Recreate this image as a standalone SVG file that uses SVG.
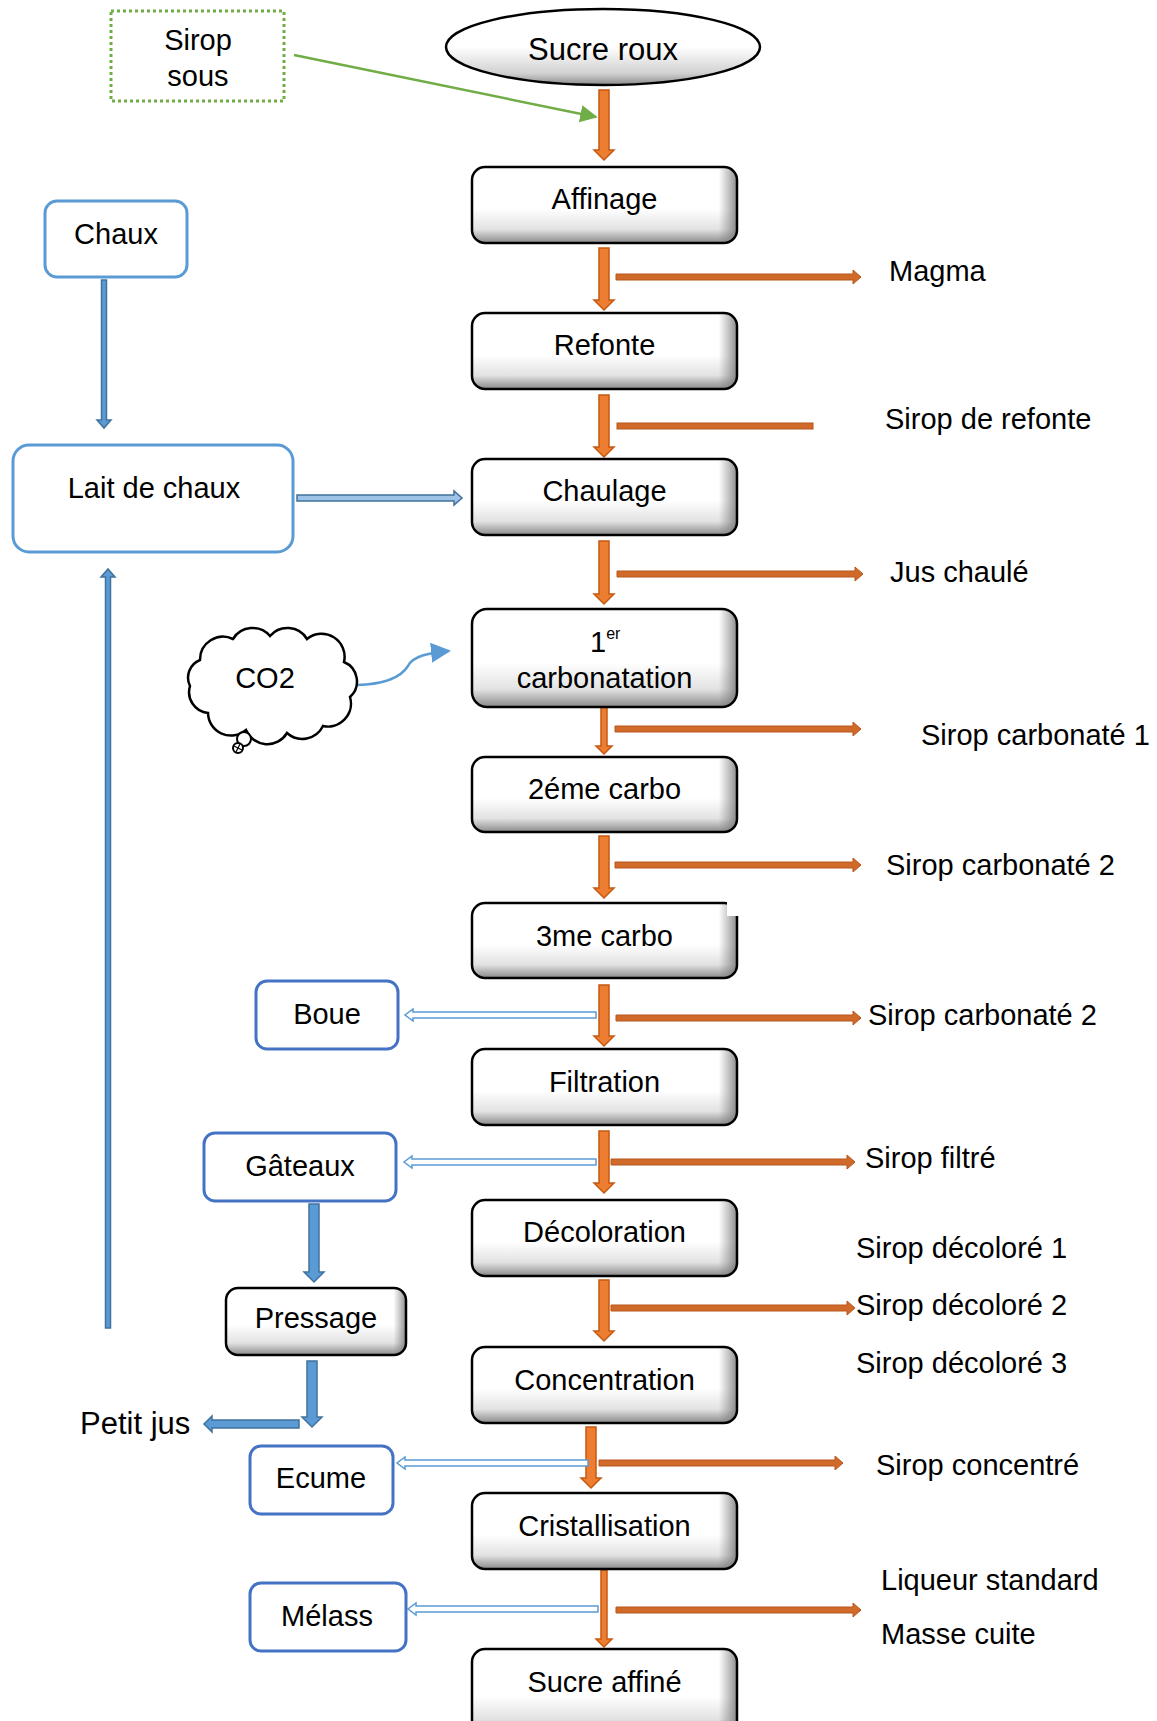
<svg xmlns="http://www.w3.org/2000/svg" width="1157" height="1721" viewBox="0 0 1157 1721">
  <defs>
    <linearGradient id="boxFill" x1="0" y1="0" x2="0" y2="1">
      <stop offset="0" stop-color="#ffffff"/>
      <stop offset="0.55" stop-color="#ffffff"/>
      <stop offset="0.82" stop-color="#e2e2e2"/>
      <stop offset="1" stop-color="#8a8a8a"/>
    </linearGradient>
    <linearGradient id="boxEdge" x1="0" y1="0" x2="1" y2="0">
      <stop offset="0" stop-color="#808080" stop-opacity="0"/>
      <stop offset="0.93" stop-color="#808080" stop-opacity="0"/>
      <stop offset="1" stop-color="#707070" stop-opacity="0.8"/>
    </linearGradient>
    <linearGradient id="ellFill" x1="0" y1="0" x2="0" y2="1">
      <stop offset="0" stop-color="#ffffff"/>
      <stop offset="0.5" stop-color="#ffffff"/>
      <stop offset="0.85" stop-color="#d0d0d0"/>
      <stop offset="1" stop-color="#8a8a8a"/>
    </linearGradient>
    <marker id="greenHead" viewBox="0 0 10 10" refX="9" refY="5" markerWidth="7" markerHeight="7" orient="auto" markerUnits="strokeWidth">
      <path d="M0,0 L10,5 L0,10 Z" fill="#70AD47"/>
    </marker>
    <marker id="blueHead" viewBox="0 0 10 10" refX="9" refY="5" markerWidth="8" markerHeight="8" orient="auto" markerUnits="strokeWidth">
      <path d="M0,0 L10,5 L0,10 Z" fill="#5B9BD5"/>
    </marker>
  </defs>
  <style>
    text { font-family: "Liberation Sans", Arial, sans-serif; font-size: 29px; fill: #000; }
    .c { text-anchor: middle; }
    .step .body { fill: url(#boxFill); stroke: none; }
    .step .edge { fill: url(#boxEdge); stroke: none; }
    .step .frame { fill: none; stroke: #000; stroke-width: 2.5; }
    .side { fill: #fff; stroke-width: 3; }
    .side.light { stroke: #5B9BD5; }
    .side.dark { stroke: #4472C4; }
    .orange { fill: #ED7D31; stroke: #C55A11; stroke-width: 1.5; stroke-linejoin: miter; }
    .orangeThin { fill: #CF6A2A; stroke: #B8561A; stroke-width: 1; }
    .blueSolid { fill: #5B9BD5; stroke: #41719C; stroke-width: 1.5; }
    .blueDouble { fill: #fff; stroke: #5B9BD5; stroke-width: 1.5; }
    .blueOutline { fill: #9DC3E6; stroke: #41719C; stroke-width: 1.5; }
  </style>

  <rect width="1157" height="1721" fill="#ffffff"/>

  <!-- connectors -->
  <g id="connectors">
    <!-- main column, downward -->
    <path class="orange" d="M599,90 H609 V150 H614 L604,160 L594,150 H599 Z"/>
    <path class="orange" d="M599,248 H609 V300 H614 L604,310 L594,300 H599 Z"/>
    <path class="orange" d="M599,395 H609 V447 H614 L604,457 L594,447 H599 Z"/>
    <path class="orange" d="M599,541 H609 V594 H614 L604,604 L594,594 H599 Z"/>
    <path class="orange" d="M601,707 H607 V746 H612 L604,754 L596,746 H601 Z"/>
    <path class="orange" d="M599,836 H609 V888 H614 L604,898 L594,888 H599 Z"/>
    <path class="orange" d="M599,985 H609 V1036 H614 L604,1046 L594,1036 H599 Z"/>
    <path class="orange" d="M599,1131 H609 V1183 H614 L604,1193 L594,1183 H599 Z"/>
    <path class="orange" d="M599,1280 H609 V1331 H614 L604,1341 L594,1331 H599 Z"/>
    <path class="orange" d="M586,1427 H596 V1478 H601 L591,1488 L581,1478 H586 Z"/>
    <path class="orange" d="M601,1570 H607 V1639 H612 L604,1647 L596,1639 H601 Z"/>

    <!-- outputs to the right -->
    <path class="orangeThin" d="M616,274 H853 V270 L861,277 L853,284 V280 H616 Z"/>
    <rect class="orangeThin" x="617" y="423" width="196" height="6"/>
    <path class="orangeThin" d="M617,571 H855 V567 L863,574 L855,581 V577 H617 Z"/>
    <path class="orangeThin" d="M615,726 H853 V722 L861,729 L853,736 V732 H615 Z"/>
    <path class="orangeThin" d="M615,862 H853 V858 L861,865 L853,872 V868 H615 Z"/>
    <path class="orangeThin" d="M616,1015 H853 V1011 L861,1018 L853,1025 V1021 H616 Z"/>
    <path class="orangeThin" d="M611,1159 H847 V1155 L855,1162 L847,1169 V1165 H611 Z"/>
    <path class="orangeThin" d="M611,1305 H847 V1301 L855,1308 L847,1315 V1311 H611 Z"/>
    <path class="orangeThin" d="M599,1460 H835 V1456 L843,1463 L835,1470 V1466 H599 Z"/>
    <path class="orangeThin" d="M616,1607 H853 V1603 L861,1610 L853,1617 V1613 H616 Z"/>

    <!-- by-products to the left -->
    <path class="blueDouble" d="M596,1012 H413 V1009 L405,1015 L413,1021 V1018 H596 Z"/>
    <path class="blueDouble" d="M596,1159 H412 V1156 L404,1162 L412,1168 V1165 H596 Z"/>
    <path class="blueDouble" d="M588,1460 H405 V1457 L397,1463 L405,1469 V1466 H588 Z"/>
    <path class="blueDouble" d="M598,1606 H416 V1603 L408,1609 L416,1615 V1612 H598 Z"/>

    <!-- lime circuit -->
    <path class="blueSolid" d="M101.5,280 H106.5 V420 H111 L104,428 L97,420 H101.5 Z"/>
    <path class="blueOutline" d="M297,495 H454 V491 L462,498 L454,505 V501 H297 Z"/>
    <path class="blueSolid" d="M105.5,1328 H110.5 V577 H115 L108,569 L101,577 H105.5 Z"/>

    <!-- filter cake pressing -->
    <path class="blueSolid" d="M309,1204 H319 V1272 H324 L314,1282 L304,1272 H309 Z"/>
    <path class="blueSolid" d="M307,1361 H317 V1417 H322 L312,1427 L302,1417 H307 Z"/>
    <path class="blueSolid" d="M299,1420 H212 V1416 L204,1424 L212,1432 V1428 H299 Z"/>

    <!-- sweet water into refining -->
    <line x1="294" y1="55" x2="596" y2="117" stroke="#70AD47" stroke-width="2.5" marker-end="url(#greenHead)"/>

    <!-- CO2 feed -->
    <path d="M357,685 C392,684 403,674 408,666 C413,656 428,653 449,651" fill="none" stroke="#5B9BD5" stroke-width="2.5" marker-end="url(#blueHead)"/>
  </g>

  <!-- inputs -->
  <g id="sirop-sous">
    <rect x="111" y="11" width="173" height="90" fill="#fff" stroke="#70AD47" stroke-width="3" stroke-dasharray="3,3"/>
    <text class="c" x="198" y="50">Sirop</text>
    <text class="c" x="198" y="86">sous</text>
  </g>

  <g id="sucre-roux">
    <ellipse cx="603" cy="47" rx="157" ry="38" fill="url(#ellFill)" stroke="#000" stroke-width="2.5"/>
    <text class="c" x="603" y="60" style="font-size:31px">Sucre roux</text>
  </g>

  <!-- main process steps -->
  <g id="affinage" class="step">
    <rect class="body" x="472" y="167" width="265" height="76" rx="13"/>
    <rect class="edge" x="472" y="167" width="265" height="76" rx="13"/>
    <rect class="frame" x="472" y="167" width="265" height="76" rx="13"/>
    <text class="c" x="604.5" y="209">Affinage</text>
  </g>
  <g id="refonte" class="step">
    <rect class="body" x="472" y="313" width="265" height="76" rx="13"/>
    <rect class="edge" x="472" y="313" width="265" height="76" rx="13"/>
    <rect class="frame" x="472" y="313" width="265" height="76" rx="13"/>
    <text class="c" x="604.5" y="355">Refonte</text>
  </g>
  <g id="chaulage" class="step">
    <rect class="body" x="472" y="459" width="265" height="76" rx="13"/>
    <rect class="edge" x="472" y="459" width="265" height="76" rx="13"/>
    <rect class="frame" x="472" y="459" width="265" height="76" rx="13"/>
    <text class="c" x="604.5" y="501">Chaulage</text>
  </g>
  <g id="carbonatation-1" class="step">
    <rect class="body" x="472" y="609" width="265" height="98" rx="15"/>
    <rect class="edge" x="472" y="609" width="265" height="98" rx="15"/>
    <rect class="frame" x="472" y="609" width="265" height="98" rx="15"/>
    <text x="590" y="652">1<tspan dy="-13" style="font-size:16px">er</tspan></text>
    <text class="c" x="604.5" y="688">carbonatation</text>
  </g>
  <g id="carbo-2" class="step">
    <rect class="body" x="472" y="757" width="265" height="75" rx="13"/>
    <rect class="edge" x="472" y="757" width="265" height="75" rx="13"/>
    <rect class="frame" x="472" y="757" width="265" height="75" rx="13"/>
    <text class="c" x="604.5" y="799">2éme carbo</text>
  </g>
  <g id="carbo-3" class="step">
    <rect class="body" x="472" y="903" width="265" height="75" rx="13"/>
    <rect class="edge" x="472" y="903" width="265" height="75" rx="13"/>
    <rect class="frame" x="472" y="903" width="265" height="75" rx="13"/>
    <rect x="727" y="898" width="14" height="18" fill="#fff"/>
    <text class="c" x="604.5" y="946">3me carbo</text>
  </g>
  <g id="filtration" class="step">
    <rect class="body" x="472" y="1049" width="265" height="76" rx="13"/>
    <rect class="edge" x="472" y="1049" width="265" height="76" rx="13"/>
    <rect class="frame" x="472" y="1049" width="265" height="76" rx="13"/>
    <text class="c" x="604.5" y="1092">Filtration</text>
  </g>
  <g id="decoloration" class="step">
    <rect class="body" x="472" y="1200" width="265" height="76" rx="13"/>
    <rect class="edge" x="472" y="1200" width="265" height="76" rx="13"/>
    <rect class="frame" x="472" y="1200" width="265" height="76" rx="13"/>
    <text class="c" x="604.5" y="1242">Décoloration</text>
  </g>
  <g id="concentration" class="step">
    <rect class="body" x="472" y="1347" width="265" height="76" rx="13"/>
    <rect class="edge" x="472" y="1347" width="265" height="76" rx="13"/>
    <rect class="frame" x="472" y="1347" width="265" height="76" rx="13"/>
    <text class="c" x="604.5" y="1390">Concentration</text>
  </g>
  <g id="cristallisation" class="step">
    <rect class="body" x="472" y="1493" width="265" height="76" rx="13"/>
    <rect class="edge" x="472" y="1493" width="265" height="76" rx="13"/>
    <rect class="frame" x="472" y="1493" width="265" height="76" rx="13"/>
    <text class="c" x="604.5" y="1536">Cristallisation</text>
  </g>
  <g id="sucre-affine" class="step">
    <rect class="body" x="472" y="1649" width="265" height="86" rx="13"/>
    <rect class="edge" x="472" y="1649" width="265" height="86" rx="13"/>
    <rect class="frame" x="472" y="1649" width="265" height="86" rx="13"/>
    <text class="c" x="604.5" y="1692">Sucre affiné</text>
  </g>

  <!-- lime preparation -->
  <g id="chaux">
    <rect class="side light" x="45" y="201" width="142" height="76" rx="12"/>
    <text class="c" x="116" y="244">Chaux</text>
  </g>
  <g id="lait-de-chaux">
    <rect class="side light" x="13" y="445" width="280" height="107" rx="16"/>
    <text class="c" x="154" y="498">Lait de chaux</text>
  </g>

  <g id="co2">
    <path d="M200,660 A23,23 0 0 1 233,639 A23,23 0 0 1 270,636 A23,23 0 0 1 307,639 A23,23 0 0 1 344,662 A21,21 0 0 1 350,697 A23,23 0 0 1 323,726 A23,23 0 0 1 287,733 A23,23 0 0 1 246,730 A23,23 0 0 1 208,713 A21,21 0 0 1 190,686 A19,19 0 0 1 200,660 Z" fill="#fff" stroke="#000" stroke-width="2.5"/>
    <circle cx="244" cy="739" r="7" fill="#fff" stroke="#000" stroke-width="2"/>
    <circle cx="238" cy="748" r="5" fill="#fff" stroke="#000" stroke-width="2"/>
    <path d="M234,746 L242,750 M236,752 L240,744" stroke="#000" stroke-width="1.2"/>
    <text class="c" x="265" y="688">CO2</text>
  </g>

  <!-- by-products -->
  <g id="boue">
    <rect class="side dark" x="256" y="981" width="142" height="68" rx="11"/>
    <text class="c" x="327" y="1024">Boue</text>
  </g>
  <g id="gateaux">
    <rect class="side dark" x="204" y="1133" width="192" height="68" rx="11"/>
    <text class="c" x="300" y="1176">Gâteaux</text>
  </g>
  <g id="pressage" class="step">
    <rect class="body" x="226" y="1288" width="180" height="67" rx="12"/>
    <rect class="edge" x="226" y="1288" width="180" height="67" rx="12"/>
    <rect class="frame" x="226" y="1288" width="180" height="67" rx="12"/>
    <text class="c" x="316" y="1328">Pressage</text>
  </g>
  <g id="petit-jus">
    <text x="80" y="1434" style="font-size:31px">Petit jus</text>
  </g>
  <g id="ecume">
    <rect class="side dark" x="250" y="1446" width="143" height="68" rx="11"/>
    <text class="c" x="321" y="1488">Ecume</text>
  </g>
  <g id="melass">
    <rect class="side dark" x="250" y="1583" width="156" height="68" rx="11"/>
    <text class="c" x="327" y="1626">Mélass</text>
  </g>

  <!-- product streams -->
  <g id="labels">
    <text x="889" y="281">Magma</text>
    <text x="885" y="429">Sirop de refonte</text>
    <text x="890" y="582">Jus chaulé</text>
    <text x="921" y="745">Sirop carbonaté 1</text>
    <text x="886" y="875">Sirop carbonaté 2</text>
    <text x="868" y="1025">Sirop carbonaté 2</text>
    <text x="865" y="1168">Sirop filtré</text>
    <text x="856" y="1258">Sirop décoloré 1</text>
    <text x="856" y="1315">Sirop décoloré 2</text>
    <text x="856" y="1373">Sirop décoloré 3</text>
    <text x="876" y="1475">Sirop concentré</text>
    <text x="881" y="1590">Liqueur standard</text>
    <text x="881" y="1644">Masse cuite</text>
  </g>
</svg>
